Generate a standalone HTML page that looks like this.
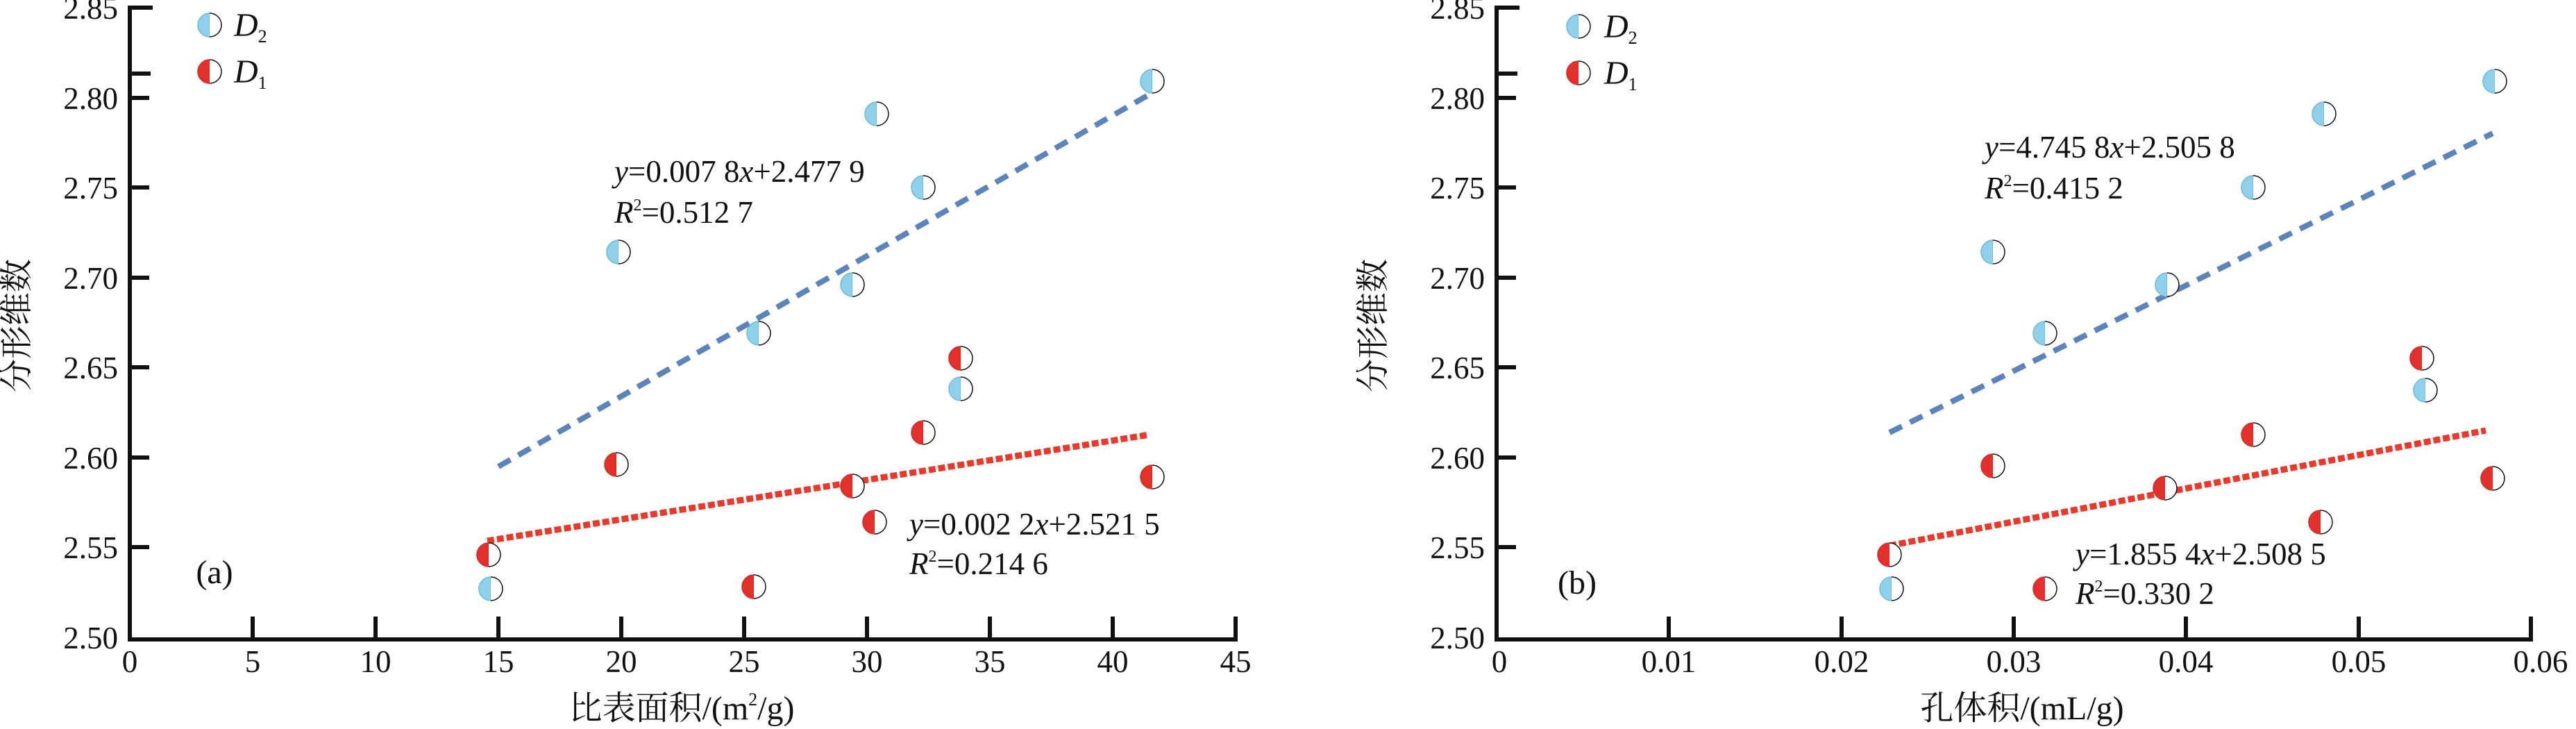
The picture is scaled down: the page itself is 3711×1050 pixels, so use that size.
<!DOCTYPE html>
<html><head><meta charset="utf-8"><style>
html,body{margin:0;padding:0;background:#fff;}
svg{display:block;}
svg text{font-family:'Liberation Serif','DejaVu Serif','Noto Serif CJK SC',serif !important;fill:#111;}
</style></head><body>
<svg width="3711" height="1050" viewBox="0 0 3711 1050" xmlns="http://www.w3.org/2000/svg" font-family="Liberation Serif, DejaVu Serif, Noto Serif CJK SC, serif">
<defs>
<g id="mb"><path d="M0,-17 A17,17 0 0,0 0,17 Z" fill="#8fd0ea" stroke="#6bb8dc" stroke-width="1.5"/><path d="M0,-17 A17,17 0 0,1 0,17" fill="#fff" stroke="#111" stroke-width="1.5"/></g>
<g id="mr"><path d="M0,-17 A17,17 0 0,0 0,17 Z" fill="#e3302a" stroke="#d42a24" stroke-width="1.5"/><path d="M0,-17 A17,17 0 0,1 0,17" fill="#fff" stroke="#111" stroke-width="1.5"/></g>
</defs>

<g stroke="#111" stroke-width="6" fill="none">
<path d="M187,8 V921 H1783"/>
<path d="M187,11 H220 M187,106 H217 M187,141 H215 M187,270 H215 M187,400 H215 M187,529 H215 M187,659 H215 M187,788 H215"/>
<path d="M364,918 V888 M541,918 V888 M718,918 V888 M895,918 V888 M1072,918 V888 M1249,918 V888 M1426,918 V888 M1603,918 V888 M1780,918 V888"/>
</g>
<g font-size="45" text-anchor="end">
<text x="170" y="27">2.85</text><text x="170" y="157">2.80</text><text x="170" y="286">2.75</text><text x="170" y="416">2.70</text>
<text x="170" y="545">2.65</text><text x="170" y="675">2.60</text><text x="170" y="804">2.55</text><text x="170" y="934">2.50</text>
</g>
<g font-size="45" text-anchor="middle">
<text x="187" y="968">0</text><text x="364" y="968">5</text><text x="541" y="968">10</text><text x="718" y="968">15</text><text x="895" y="968">20</text>
<text x="1072" y="968">25</text><text x="1249" y="968">30</text><text x="1426" y="968">35</text><text x="1603" y="968">40</text><text x="1780" y="968">45</text>
</g>
<text x="982" y="1036" font-size="48" text-anchor="middle">比表面积/(m<tspan font-size="26" dy="-20">2</tspan><tspan dy="20">/g)</tspan></text>
<text transform="translate(40,469) rotate(-90)" font-size="48" text-anchor="middle">分形维数</text>
<use href="#mb" x="302" y="36"/><use href="#mr" x="302" y="103"/>
<text x="337" y="52" font-size="48" font-style="italic">D<tspan font-size="26" font-style="normal" dy="9">2</tspan></text>
<text x="337" y="119" font-size="48" font-style="italic">D<tspan font-size="26" font-style="normal" dy="9">1</tspan></text>
<text x="309" y="840" font-size="48" text-anchor="middle">(a)</text>

<line x1="718" y1="672" x2="1656" y2="136" stroke="#5b84ba" stroke-width="8" stroke-dasharray="20,13"/>
<line x1="702" y1="779" x2="1656" y2="626" stroke="#e8392a" stroke-width="9" stroke-dasharray="10,4"/>

<use href="#mb" x="1660" y="117"/><use href="#mb" x="1263" y="164"/><use href="#mb" x="1330" y="270"/><use href="#mb" x="891" y="363"/>
<use href="#mb" x="1228" y="410"/><use href="#mb" x="1093" y="480"/><use href="#mb" x="1384" y="560"/><use href="#mb" x="707" y="848"/>
<use href="#mr" x="1384" y="516"/><use href="#mr" x="1330" y="623"/><use href="#mr" x="888" y="669"/><use href="#mr" x="1228" y="700"/>
<use href="#mr" x="1660" y="687"/><use href="#mr" x="1260" y="752"/><use href="#mr" x="704" y="799"/><use href="#mr" x="1086" y="845"/>

<text x="885" y="262" font-size="45"><tspan font-style="italic">y</tspan>=0.007 8<tspan font-style="italic">x</tspan>+2.477 9</text>
<text x="885" y="321" font-size="45"><tspan font-style="italic">R</tspan><tspan font-size="24" dy="-18">2</tspan><tspan dy="18">=0.512 7</tspan></text>
<text x="1310" y="770" font-size="45"><tspan font-style="italic">y</tspan>=0.002 2<tspan font-style="italic">x</tspan>+2.521 5</text>
<text x="1310" y="827" font-size="45"><tspan font-style="italic">R</tspan><tspan font-size="24" dy="-18">2</tspan><tspan dy="18">=0.214 6</tspan></text>

<g stroke="#111" stroke-width="6" fill="none">
<path d="M2156,8 V921 H3649"/>
<path d="M2156,11 H2189 M2156,106 H2186 M2156,141 H2184 M2156,270 H2184 M2156,400 H2184 M2156,529 H2184 M2156,659 H2184 M2156,788 H2184"/>
<path d="M2404,918 V888 M2653,918 V888 M2901,918 V888 M3149,918 V888 M3398,918 V888 M3646,918 V888"/>
</g>
<g font-size="45" text-anchor="end">
<text x="2139" y="27">2.85</text><text x="2139" y="157">2.80</text><text x="2139" y="286">2.75</text><text x="2139" y="416">2.70</text>
<text x="2139" y="545">2.65</text><text x="2139" y="675">2.60</text><text x="2139" y="804">2.55</text><text x="2139" y="934">2.50</text>
</g>
<g font-size="45" text-anchor="middle">
<text x="2160" y="968">0</text><text x="2404" y="968">0.01</text><text x="2653" y="968">0.02</text><text x="2901" y="968">0.03</text>
<text x="3149" y="968">0.04</text><text x="3398" y="968">0.05</text><text x="3660" y="968">0.06</text>
</g>
<text x="2913" y="1036" font-size="48" text-anchor="middle">孔体积/(mL/g)</text>
<text transform="translate(1994,469) rotate(-90)" font-size="48" text-anchor="middle">分形维数</text>
<use href="#mb" x="2274" y="38"/><use href="#mr" x="2274" y="105"/>
<text x="2311" y="54" font-size="48" font-style="italic">D<tspan font-size="26" font-style="normal" dy="9">2</tspan></text>
<text x="2311" y="121" font-size="48" font-style="italic">D<tspan font-size="26" font-style="normal" dy="9">1</tspan></text>
<text x="2272" y="855" font-size="48" text-anchor="middle">(b)</text>

<line x1="2722" y1="623" x2="3591" y2="192" stroke="#5b84ba" stroke-width="8" stroke-dasharray="20,13"/>
<line x1="2722" y1="786" x2="3581" y2="620" stroke="#e8392a" stroke-width="9" stroke-dasharray="10,4"/>

<use href="#mb" x="3594" y="117"/><use href="#mb" x="3348" y="164"/><use href="#mb" x="3246" y="270"/><use href="#mb" x="2871" y="363"/>
<use href="#mb" x="3122" y="410"/><use href="#mb" x="2946" y="480"/><use href="#mb" x="3494" y="562"/><use href="#mb" x="2725" y="848"/>
<use href="#mr" x="3489" y="516"/><use href="#mr" x="3246" y="626"/><use href="#mr" x="2871" y="671"/><use href="#mr" x="3119" y="703"/>
<use href="#mr" x="3591" y="689"/><use href="#mr" x="3343" y="752"/><use href="#mr" x="2722" y="799"/><use href="#mr" x="2946" y="848"/>

<text x="2859" y="227" font-size="45"><tspan font-style="italic">y</tspan>=4.745 8<tspan font-style="italic">x</tspan>+2.505 8</text>
<text x="2859" y="286" font-size="45"><tspan font-style="italic">R</tspan><tspan font-size="24" dy="-18">2</tspan><tspan dy="18">=0.415 2</tspan></text>
<text x="2990" y="813" font-size="45"><tspan font-style="italic">y</tspan>=1.855 4<tspan font-style="italic">x</tspan>+2.508 5</text>
<text x="2990" y="870" font-size="45"><tspan font-style="italic">R</tspan><tspan font-size="24" dy="-18">2</tspan><tspan dy="18">=0.330 2</tspan></text>
</svg>
</body></html>
